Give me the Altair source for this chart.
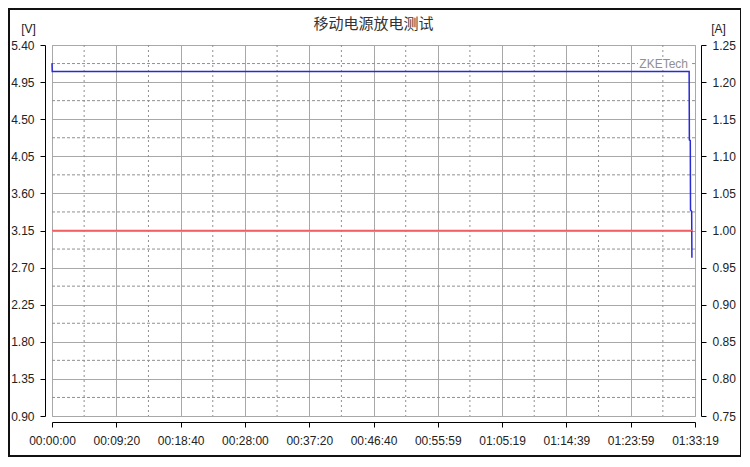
import altair as alt
import pandas as pd

# ---- data ----
v_time = [0, 2, 5548, 5550, 5558, 5560, 5570, 5572]          # seconds
v_volt = [5.18, 5.08, 5.08, 4.25, 4.24, 3.40, 3.38, 2.82]    # [V]
i_time = [0, 5579]                                           # seconds
i_amp = [1.00, 1.00]                                         # [A]

x_ticks = [0, 560, 1120, 1680, 2240, 2800, 3359, 3919, 4479, 5039, 5599]
x_minor = [280, 840, 1400, 1960, 2520, 3080, 3639, 4199, 4759, 5319]
v_ticks = [0.90, 1.35, 1.80, 2.25, 2.70, 3.15, 3.60, 4.05, 4.50, 4.95, 5.40]
v_minor = [1.125, 1.575, 2.025, 2.475, 2.925, 3.375, 3.825, 4.275, 4.725, 5.175]
a_ticks = [0.75, 0.80, 0.85, 0.90, 0.95, 1.00, 1.05, 1.10, 1.15, 1.20, 1.25]

title_text = "移动电源放电测试"
watermark = "ZKETech"

vdf = pd.DataFrame({"t": v_time, "v": v_volt})
idf = pd.DataFrame({"t": i_time, "a": i_amp})
xmdf = pd.DataFrame({"t": x_minor})
vmdf = pd.DataFrame({"v": v_minor})

FONT = "Liberation Sans"
xscale = alt.Scale(domain=[0, 5599], nice=False, zero=False)
vscale = alt.Scale(domain=[0.90, 5.40], nice=False, zero=False)
ascale = alt.Scale(domain=[0.75, 1.25], nice=False, zero=False)

x_axis = alt.Axis(values=x_ticks, labelExpr="utcFormat(datum.value*1000, '%H:%M:%S')",
                  title=None, grid=True, gridColor="#a8a8a8", gridWidth=1,
                  domainColor="#000", tickColor="#000", tickSize=5, offset=6,
                  labelPadding=8, labelFont=FONT, labelFontSize=12, labelColor="#222",
                  labelFlush=False, labelOverlap=False)

v_axis = alt.Axis(values=v_ticks, format=".2f", orient="left", title="[V]",
                  titleAngle=0, titleX=-17, titleY=-17, titleAlign="center",
                  titleBaseline="middle", titleFont=FONT, titleFontSize=12,
                  titleFontWeight="normal", titleColor="#222",
                  grid=True, gridColor="#a8a8a8", gridWidth=1,
                  domainColor="#000", tickColor="#000", tickSize=5, offset=7,
                  labelPadding=6, labelFont=FONT, labelFontSize=12, labelColor="#222",
                  labelFlush=False, labelOverlap=False)

a_axis = alt.Axis(values=a_ticks, format=".2f", orient="right", title="[A]",
                  titleAngle=0, titleX=17, titleY=-17, titleAlign="center",
                  titleBaseline="middle", titleFont=FONT, titleFontSize=12,
                  titleFontWeight="normal", titleColor="#222",
                  grid=False, domainColor="#000", tickColor="#000", tickSize=5, offset=6,
                  labelPadding=6, labelFont=FONT, labelFontSize=12, labelColor="#222",
                  labelFlush=False, labelOverlap=False)

xminor = alt.Chart(xmdf).mark_rule(color="#909090", strokeWidth=1, strokeDash=[2, 3]).encode(
    x=alt.X("t:Q", scale=xscale, axis=x_axis)
)
vminor = alt.Chart(vmdf).mark_rule(color="#909090", strokeWidth=1, strokeDash=[3, 2]).encode(
    y=alt.Y("v:Q", scale=vscale, axis=v_axis)
)
vline = alt.Chart(vdf).mark_line(color="#2a2ad8", strokeWidth=1.5, interpolate="linear").encode(
    x=alt.X("t:Q", scale=xscale, axis=x_axis),
    y=alt.Y("v:Q", scale=vscale, axis=v_axis),
    order=alt.Order("t:Q"),
)
wm_bg = alt.Chart(pd.DataFrame({"k": [0]})).mark_rect(fill="white", stroke=None).encode(
    x=alt.value(586), x2=alt.value(638), y=alt.value(13), y2=alt.value(25)
)
wm = alt.Chart(pd.DataFrame({"s": [watermark]})).mark_text(
    align="right", baseline="middle", font=FONT, fontSize=12, color="#909090"
).encode(x=alt.value(636), y=alt.value(19), text="s:N")

left_layer = alt.layer(xminor, vminor, wm_bg, vline, wm)

iline = alt.Chart(idf).mark_line(color="#f06060", strokeWidth=1.5).encode(
    x=alt.X("t:Q", scale=xscale, axis=x_axis),
    y=alt.Y("a:Q", scale=ascale, axis=a_axis),
)

frame = alt.Chart(pd.DataFrame({"k": [0]})).mark_rect(
    fill=None, stroke="#111", strokeWidth=2
).encode(x=alt.value(-43), x2=alt.value(689), y=alt.value(-36), y2=alt.value(411))

chart = alt.layer(left_layer, iline, frame).resolve_scale(y="independent").properties(
    width=643, height=371,
    title=alt.TitleParams(title_text, font="Noto Sans CJK SC", fontSize=15,
                          fontWeight="normal", color="#333", anchor="middle",
                          offset=14, dy=38),
    autosize=alt.AutoSizeParams(type="none"),
    padding={"left": 44, "top": 37, "right": 46, "bottom": 41},
    background="white",
).configure_view(stroke="#a8a8a8", strokeWidth=1)

chart.save("out.html", embed_options={"renderer": "svg", "actions": False})
